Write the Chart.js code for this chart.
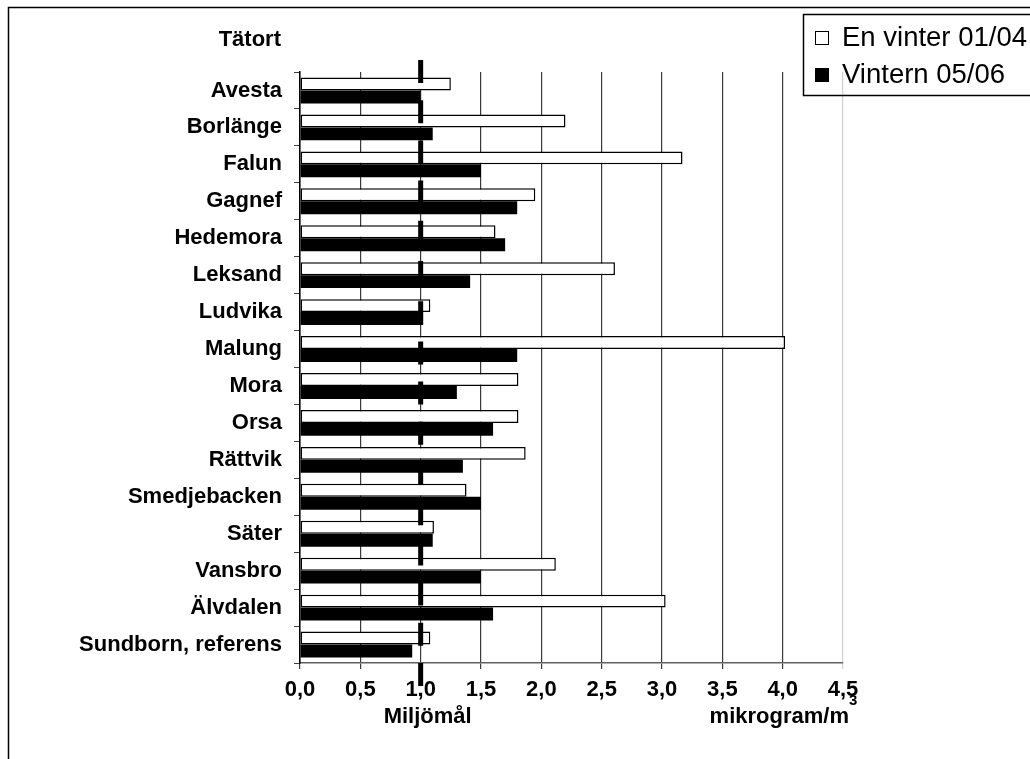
<!DOCTYPE html>
<html>
<head>
<meta charset="utf-8">
<script src="https://cdn.jsdelivr.net/npm/chart.js@4/dist/chart.umd.min.js"></script>
<style>
  body { margin: 0; background: #fff; }
  #wrap { position: relative; width: 1030px; height: 759px; }
</style>
</head>
<body>
<div id="wrap"><canvas id="myChart" width="1030" height="759"></canvas></div>
<script>
// orter (y-axel)
const towns = ['Avesta', 'Borlänge', 'Falun', 'Gagnef', 'Hedemora', 'Leksand', 'Ludvika', 'Malung',
  'Mora', 'Orsa', 'Rättvik', 'Smedjebacken', 'Säter', 'Vansbro', 'Älvdalen', 'Sundborn, referens'];
// värden, mikrogram/m3
const vinter0104 = [1.25, 2.2, 3.17, 1.95, 1.62, 2.61, 1.08, 4.02, 1.81, 1.81, 1.87, 1.38, 1.11, 2.12, 3.03, 1.08];
const vintern0506 = [1.0, 1.1, 1.5, 1.8, 1.7, 1.41, 1.02, 1.8, 1.3, 1.6, 1.35, 1.5, 1.1, 1.5, 1.6, 0.93];
const seriesNames = ['En vinter 01/04', 'Vintern 05/06'];
// miljömål
const miljomal = 1.0;
const xMin = 0, xMax = 4.5, xStep = 0.5;

const FONT = 'Liberation Sans, Arial, sans-serif';

const extras = {
  id: 'extras',
  beforeDraw(chart) {
    const c = chart.ctx;
    c.save();
    c.strokeStyle = '#000';
    c.lineWidth = 1.5;
    c.strokeRect(8.5, 7.5, 1200, 900);
    c.restore();
  },
  afterDatasetsDraw(chart) {
    const c = chart.ctx;
    const area = chart.chartArea;
    const x = chart.scales.x.getPixelForValue(miljomal);
    c.save();
    // streckad linje för miljömålet
    c.strokeStyle = '#000';
    c.lineWidth = 5;
    c.setLineDash([23, 17.2]);
    c.beginPath();
    c.moveTo(x, area.top - 12);
    c.lineTo(x, area.bottom + 24);
    c.stroke();
    c.setLineDash([]);

    c.fillStyle = '#000';
    c.font = 'bold 22px ' + FONT;
    c.textBaseline = 'middle';
    c.textAlign = 'right';
    c.fillText('Tätort', 281, 40);
    c.textAlign = 'center';
    c.fillText('Miljömål', x + 7, 717);
    c.textAlign = 'right';
    c.fillText('mikrogram/m', 849, 717);
    c.font = 'bold 15px ' + FONT;
    c.textAlign = 'left';
    c.fillText('3', 849, 701);

    // legend
    c.lineWidth = 1.5;
    c.strokeRect(803.5, 14.5, 300, 81);
    c.font = '27.5px ' + FONT;
    c.textAlign = 'left';
    chart.data.datasets.forEach((ds, i) => {
      const y = 38 + i * 37;
      c.fillStyle = ds.backgroundColor;
      c.fillRect(815, y - 7, 14, 14);
      c.lineWidth = 1;
      c.strokeStyle = '#000';
      c.strokeRect(815.5, y - 6.5, 13, 13);
      c.fillStyle = '#000';
      c.fillText(ds.label, 842, y);
    });
    c.restore();
  }
};

new Chart(document.getElementById('myChart').getContext('2d'), {
  type: 'bar',
  data: {
    labels: towns,
    datasets: [{
      label: seriesNames[0],
      data: vinter0104,
      backgroundColor: '#ffffff',
      borderColor: '#000000',
      borderWidth: 1.5,
      borderSkipped: false
    }, {
      label: seriesNames[1],
      data: vintern0506,
      backgroundColor: '#000000',
      borderColor: '#000000',
      borderWidth: 0,
      borderSkipped: false
    }]
  },
  options: {
    indexAxis: 'y',
    responsive: false,
    devicePixelRatio: 1,
    animation: false,
    layout: { padding: { top: 72, right: 187, left: 0, bottom: 0 } },
    datasets: { bar: { categoryPercentage: 0.7, barPercentage: 1 } },
    scales: {
      x: {
        min: xMin,
        max: xMax,
        afterFit(scale) { scale.height = 96; },
        ticks: {
          stepSize: xStep,
          color: '#000',
          padding: 8,
          maxRotation: 0,
          font: { family: FONT, size: 22, weight: 'bold' },
          callback: v => v.toFixed(1).replace('.', ',')
        },
        grid: {
          color: ctx => ctx.index === 9 ? '#d0d0d0' : '#3a3a3a',
          lineWidth: 1.2,
          tickLength: 6,
          drawTicks: true
        },
        border: { color: '#606060', width: 1.5 }
      },
      y: {
        afterFit(scale) { scale.width = 300; },
        ticks: {
          color: '#000',
          padding: 12,
          font: { family: FONT, size: 22, weight: 'bold' }
        },
        grid: {
          drawOnChartArea: false,
          tickLength: 6,
          color: '#404040'
        },
        border: { color: '#000', width: 1.5 }
      }
    },
    plugins: {
      legend: { display: false },
      tooltip: { enabled: false }
    }
  },
  plugins: [extras]
});
</script>
</body>
</html>
